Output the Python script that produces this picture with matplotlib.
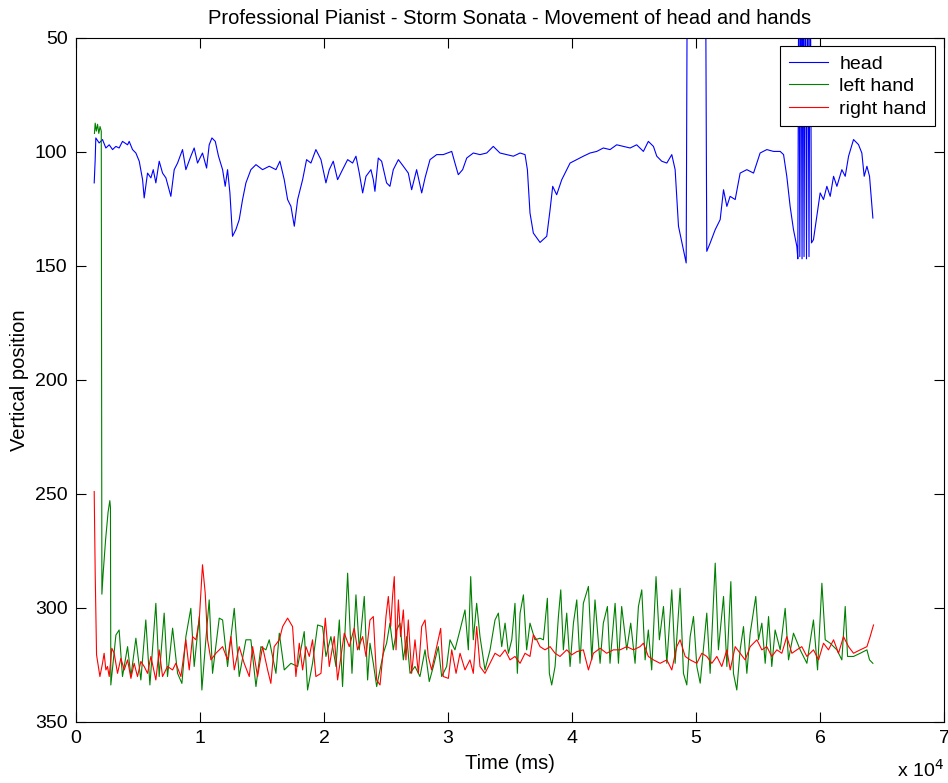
import matplotlib
matplotlib.use("Agg")
import matplotlib.pyplot as plt
from matplotlib.ticker import FuncFormatter

plt.rcParams['font.family'] = ['Liberation Sans', 'DejaVu Sans']

# time in ms, vertical position in pixels
head_t = [1480, 1560, 1610, 1880, 2150, 2420, 2690, 2960, 3230, 3490, 3760, 4170, 4300, 4570,
          4840, 5110, 5380, 5510, 5780, 6050, 6240, 6450, 6720, 6990, 7260, 7660, 7930, 8200,
          8600, 8870, 9270, 9540, 9810, 10210, 10540, 10750, 10970, 11240, 11500, 11830, 12040,
          12230, 12420, 12630, 12900, 13170, 13440, 13710, 14110, 14520, 15050, 15590, 16130,
          16450, 16800, 17070, 17340, 17610, 17880, 18280, 18600, 18950, 19350, 19760, 20160,
          20430, 20750, 21100, 21500, 21910, 22310, 22580, 22850, 23120, 23390, 23790, 23980,
          24110, 24380, 24650, 25050, 25320, 25590, 26000, 26400, 26800, 27070, 27470, 27880,
          28150, 28550, 29090, 29620, 30300, 30560, 30830, 31180, 31510, 32040, 32580, 33120,
          33650, 34190, 34730, 35270, 35810, 36210, 36400, 36610, 36880, 37420, 37960, 38230,
          38440, 38760, 39170, 39570, 39840, 40380, 40910, 41450, 41990, 42520, 43060, 43600,
          44140, 44680, 45210, 45750, 46150, 46560, 46830, 47230, 47640, 48040, 48310, 48580,
          48980, 49200, 49300, 50750, 50860, 51130, 51540, 51940, 52210, 52480, 52740, 53150,
          53550, 54090, 54630, 55160, 55700, 56240, 56780, 57050, 57310, 57580, 57850, 58120,
          58200, 58280, 58360, 58450, 58540, 58620, 58700, 58800, 58900, 59000, 59100, 59200,
          59300, 59460, 59730, 60000, 60270, 60540, 60810, 61080, 61350, 61750, 62020, 62290,
          62690, 63090, 63360, 63550, 63770, 63980, 64250]
head_y = [113.7, 103.5, 94.0, 96.2, 94.7, 98.4, 97.0, 99.1, 97.7, 98.4, 95.5, 97.0, 95.5, 99.1,
          100.6, 104.2, 112.3, 120.3, 109.4, 111.5, 107.9, 113.7, 104.2, 109.4, 111.5, 119.6,
          107.9, 105.0, 99.1, 107.9, 102.0, 98.4, 105.0, 100.6, 107.2, 97.0, 94.0, 95.5, 102.0,
          107.9, 115.2, 107.9, 118.1, 137.1, 134.2, 129.8, 121.0, 113.7, 107.9, 105.7, 107.9,
          106.4, 107.9, 104.2, 112.3, 121.0, 124.0, 132.7, 121.0, 112.3, 103.5, 105.0, 99.1,
          103.5, 113.7, 107.9, 104.2, 112.3, 107.9, 103.5, 105.0, 102.0, 109.4, 118.1, 110.8,
          107.9, 112.3, 117.4, 102.8, 104.2, 113.7, 115.2, 107.9, 103.5, 106.4, 109.4, 116.7,
          107.9, 118.1, 111.5, 103.5, 101.3, 101.3, 99.9, 105.0, 110.1, 107.9, 102.8, 100.6,
          101.3, 100.6, 97.7, 100.6, 101.3, 102.0, 100.6, 101.3, 107.9, 126.9, 135.7, 139.8,
          137.1, 125.4, 115.2, 118.9, 112.3, 107.9, 105.0, 103.5, 102.0, 100.6, 99.9, 98.4,
          99.1, 97.0, 97.7, 98.4, 97.0, 99.9, 95.5, 97.7, 102.0, 104.2, 105.0, 101.3, 107.9,
          132.7, 143.0, 148.8, 0.0, 0.0, 143.7, 140.1, 134.2, 129.8, 116.7, 124.0, 119.6, 121.0,
          109.4, 107.9, 109.4, 100.6, 99.1, 99.9, 99.9, 101.3, 110.8, 124.0, 134.2, 141.5,
          147.0, 0.0, 146.0, 0.0, 147.0, 0.0, 146.0, 0.0, 147.0, 0.0, 146.0, 0.0,
          140.0, 138.6, 128.4, 118.1, 121.0, 115.2, 119.6, 110.8, 115.2, 107.9, 110.8, 102.0,
          94.7, 96.9, 100.6, 110.8, 106.4, 110.8, 129.1]

left_t = [1500, 1560, 1650, 1750, 1850, 1950, 2050, 2100, 2200, 2400, 2600, 2740, 2790,
          2820, 3230, 3490, 3760, 4170, 4440, 4840, 5240, 5640, 5970, 6450, 6720, 7120, 7390,
          7800, 8200, 8550, 8870, 9270, 9540, 9950, 10160, 10480, 10750, 11020, 11560, 11830,
          12230, 12770, 13170, 13710, 14110, 14520, 14920, 15320, 15590, 16130, 16400, 16800,
          17340, 17880, 18410, 18680, 19080, 19490, 19890, 20160, 20560, 20970, 21240, 21500,
          21910, 22260, 22580, 22850, 23250, 23520, 23710, 23980, 24250, 24520, 24790, 25050,
          25320, 25590, 25860, 26130, 26400, 26670, 26940, 27340, 27740, 28150, 28490, 28820,
          29220, 29490, 29890, 30160, 30560, 30970, 31370, 31640, 31830, 32040, 32310, 32580,
          32980, 33390, 33790, 34060, 34330, 34600, 34870, 35140, 35400, 35590, 35810, 36080,
          36340, 36610, 37010, 37420, 37690, 38010, 38170, 38360, 38630, 38900, 39090, 39300,
          39570, 39840, 40110, 40380, 40640, 40910, 41320, 41590, 41850, 42260, 42520, 42850,
          43060, 43470, 43740, 44000, 44410, 44730, 45080, 45350, 45620, 45890, 46150, 46420,
          46770, 47040, 47370, 47640, 48040, 48310, 48710, 48980, 49250, 49520, 49790, 50060,
          50330, 50860, 51130, 51540, 51800, 52210, 52480, 52800, 53010, 53280, 53550, 53820,
          54090, 54360, 54810, 55030, 55300, 55570, 55840, 56100, 56370, 56780, 57180, 57450,
          57850, 58390, 58930, 59460, 59790, 60140, 60410, 60810, 61350, 61750, 62020, 62210,
          62690, 63230, 63770, 63980, 64250]
left_y = [92.0, 87.5, 91.0, 88.0, 92.0, 89.0, 91.0, 294.0, 285.0, 270.0, 258.0, 253.0, 256.0,
          333.8, 311.9, 309.7, 330.1, 317.0, 330.1, 313.3, 331.6, 305.3, 333.8, 298.0, 330.1,
          302.3, 330.1, 308.9, 328.7, 333.1, 312.6, 300.2, 325.7, 303.8, 336.0, 314.0, 296.5,
          328.7, 304.5, 305.3, 325.7, 300.2, 330.1, 314.0, 314.0, 334.5, 317.0, 318.4, 314.0,
          328.7, 311.1, 327.2, 324.3, 325.7, 310.4, 336.0, 324.3, 307.5, 308.2, 321.3, 312.6,
          325.7, 305.3, 334.5, 284.8, 328.7, 294.3, 318.4, 295.0, 331.6, 315.5, 324.3, 334.5,
          327.2, 319.9, 315.5, 306.7, 318.4, 309.7, 306.7, 322.8, 312.6, 328.7, 325.7, 330.1,
          318.4, 332.3, 325.7, 317.0, 330.1, 325.7, 314.0, 318.4, 309.7, 300.9, 318.4, 286.3,
          314.0, 298.0, 312.6, 327.2, 318.4, 305.3, 302.3, 317.0, 306.7, 319.9, 314.0, 298.0,
          328.7, 302.3, 294.3, 318.4, 306.7, 314.0, 313.3, 314.0, 295.8, 328.7, 333.8, 325.7,
          303.8, 292.1, 318.4, 302.3, 325.7, 306.7, 296.5, 324.3, 298.0, 290.6, 322.8, 296.5,
          324.3, 306.7, 299.4, 324.3, 298.0, 324.3, 299.4, 318.4, 306.7, 324.3, 299.4, 292.1,
          322.8, 309.7, 327.2, 286.3, 314.0, 299.4, 324.3, 292.1, 324.3, 291.4, 328.7, 333.8,
          312.6, 303.8, 325.7, 333.0, 302.3, 328.7, 280.4, 318.4, 295.0, 325.7, 288.5, 328.7,
          336.0, 318.4, 308.2, 328.7, 311.1, 295.0, 314.0, 306.7, 324.3, 303.8, 325.7, 309.7,
          318.4, 300.2, 322.8, 311.1, 318.4, 324.3, 305.3, 327.2, 289.2, 314.0, 315.5, 318.4,
          322.8, 299.4, 321.3, 321.3, 319.9, 318.4, 322.8, 324.3]

right_t = [1480, 1560, 1670, 1940, 2150, 2280, 2420, 2550, 2690, 2900, 3090, 3360, 3630, 3900,
           4170, 4440, 4700, 4970, 5240, 5510, 5780, 6050, 6450, 6720, 6990, 7390, 7800, 8060,
           8470, 8870, 9140, 9410, 9680, 9950, 10210, 10430, 10620, 10890, 11290, 11830, 12230,
           12500, 12770, 13170, 13570, 13980, 14250, 14650, 15050, 15460, 15720, 15990, 16400,
           16670, 17070, 17470, 17740, 18010, 18280, 18550, 18820, 19080, 19350, 19760, 20110,
           20430, 20830, 21100, 21370, 21640, 22040, 22440, 22710, 23120, 23390, 23710, 23980,
           24250, 24520, 24790, 25000, 25190, 25380, 25540, 25670, 25810, 26000, 26180, 26400,
           26610, 26800, 27070, 27340, 27610, 27880, 28150, 28410, 28680, 29090, 29410, 29620,
           30030, 30300, 30650, 30970, 31370, 31770, 32040, 32310, 32580, 32980, 33390, 33790,
           34190, 34600, 35000, 35400, 35810, 36210, 36610, 36880, 37150, 37420, 37820, 38230,
           38630, 39030, 39570, 39970, 40380, 40910, 41320, 41720, 42260, 42790, 43330, 43870,
           44410, 44950, 45480, 45750, 46150, 46560, 47100, 47640, 48040, 48440, 48710, 49120,
           49520, 50060, 50460, 50860, 51270, 51670, 52070, 52480, 52750, 53150, 53550, 53950,
           54360, 54900, 55300, 55700, 56100, 56510, 56910, 57310, 57720, 58120, 58520, 58930,
           59460, 59870, 60270, 60670, 61080, 61480, 61880, 62290, 62690, 63230, 63770, 64030,
           64300]
right_y = [249.0, 284.8, 320.6, 330.1, 324.3, 319.9, 327.2, 325.7, 330.1, 317.7, 319.9, 328.7,
           322.1, 327.2, 322.8, 330.9, 324.3, 330.1, 323.5, 325.7, 328.7, 321.3, 331.6, 318.4,
           330.1, 325.7, 327.2, 324.3, 330.1, 314.0, 327.2, 312.6, 314.0, 305.3, 281.1, 293.6,
           314.0, 322.8, 319.9, 317.0, 322.8, 312.6, 327.2, 317.0, 324.3, 330.1, 317.0, 330.1,
           317.0, 327.2, 333.1, 317.0, 314.0, 308.2, 304.5, 308.2, 330.1, 315.5, 327.2, 317.0,
           321.3, 314.0, 330.1, 328.7, 304.5, 325.7, 312.6, 331.6, 321.3, 311.1, 317.0, 308.9,
           318.4, 312.6, 321.3, 305.3, 303.8, 331.6, 333.8, 318.4, 303.8, 295.0, 308.2, 294.3,
           286.3, 318.4, 296.5, 312.6, 300.9, 322.8, 305.3, 328.7, 314.0, 328.7, 308.2, 305.3,
           321.3, 327.2, 317.0, 309.0, 330.1, 330.9, 318.4, 328.7, 319.9, 327.2, 322.8, 328.7,
           308.2, 325.7, 328.7, 324.3, 319.9, 321.3, 318.4, 322.8, 321.3, 324.3, 319.9, 321.3,
           311.8, 314.0, 317.0, 318.4, 317.0, 319.9, 321.3, 318.4, 320.6, 319.2, 318.4, 327.2,
           319.9, 317.7, 319.9, 318.4, 318.4, 317.0, 318.4, 317.0, 315.5, 321.3, 322.8, 324.3,
           322.8, 327.2, 317.0, 314.0, 321.3, 322.8, 324.3, 319.9, 321.3, 324.3, 321.3, 325.7,
           318.4, 327.2, 317.0, 319.9, 322.8, 317.0, 314.0, 318.4, 317.0, 321.3, 318.4, 319.9,
           312.6, 319.9, 318.4, 317.0, 321.3, 318.4, 322.8, 315.5, 318.4, 314.0, 319.9, 312.6,
           317.0, 319.9, 318.4, 317.0, 312.6, 307.5]

fig = plt.figure(figsize=(9.48, 7.83), dpi=100)
ax = fig.add_axes([0.080, 0.078, 0.916, 0.874])

ax.plot(head_t, head_y, color=(0, 0, 1), lw=0.8, label='head')
ax.plot(left_t, left_y, color=(0, 0.5, 0), lw=0.8, label='left hand')
ax.plot(right_t, right_y, color=(1, 0, 0), lw=0.8, label='right hand')

ax.set_xlim(0, 70000)
ax.set_ylim(350, 50)
ax.set_xticks([0, 10000, 20000, 30000, 40000, 50000, 60000, 70000])
ax.set_yticks([50, 100, 150, 200, 250, 300, 350])
ax.xaxis.set_major_formatter(FuncFormatter(lambda v, p: '%d' % round(v / 10000)))
ax.tick_params(direction='in', top=True, right=True, length=7, labelsize=14, pad=6)

ax.set_title('Professional Pianist - Storm Sonata - Movement of head and hands', fontsize=14.5, pad=10)
ax.set_xlabel('Time (ms)', fontsize=14.5, labelpad=5)
ax.set_ylabel('Vertical position', fontsize=14.5, labelpad=4)
ax.text(1.0, -0.07, 'x 10$^{4}$', transform=ax.transAxes, ha='right', va='center', fontsize=14)

leg = ax.legend(loc='upper right', fontsize=14, fancybox=False, framealpha=1,
                edgecolor='black', borderaxespad=0.45, handlelength=2.0, handletextpad=0.6,
                labelspacing=0.25, borderpad=0.45)
leg.get_frame().set_linewidth(0.8)

fig.savefig('out.png', dpi=100)
